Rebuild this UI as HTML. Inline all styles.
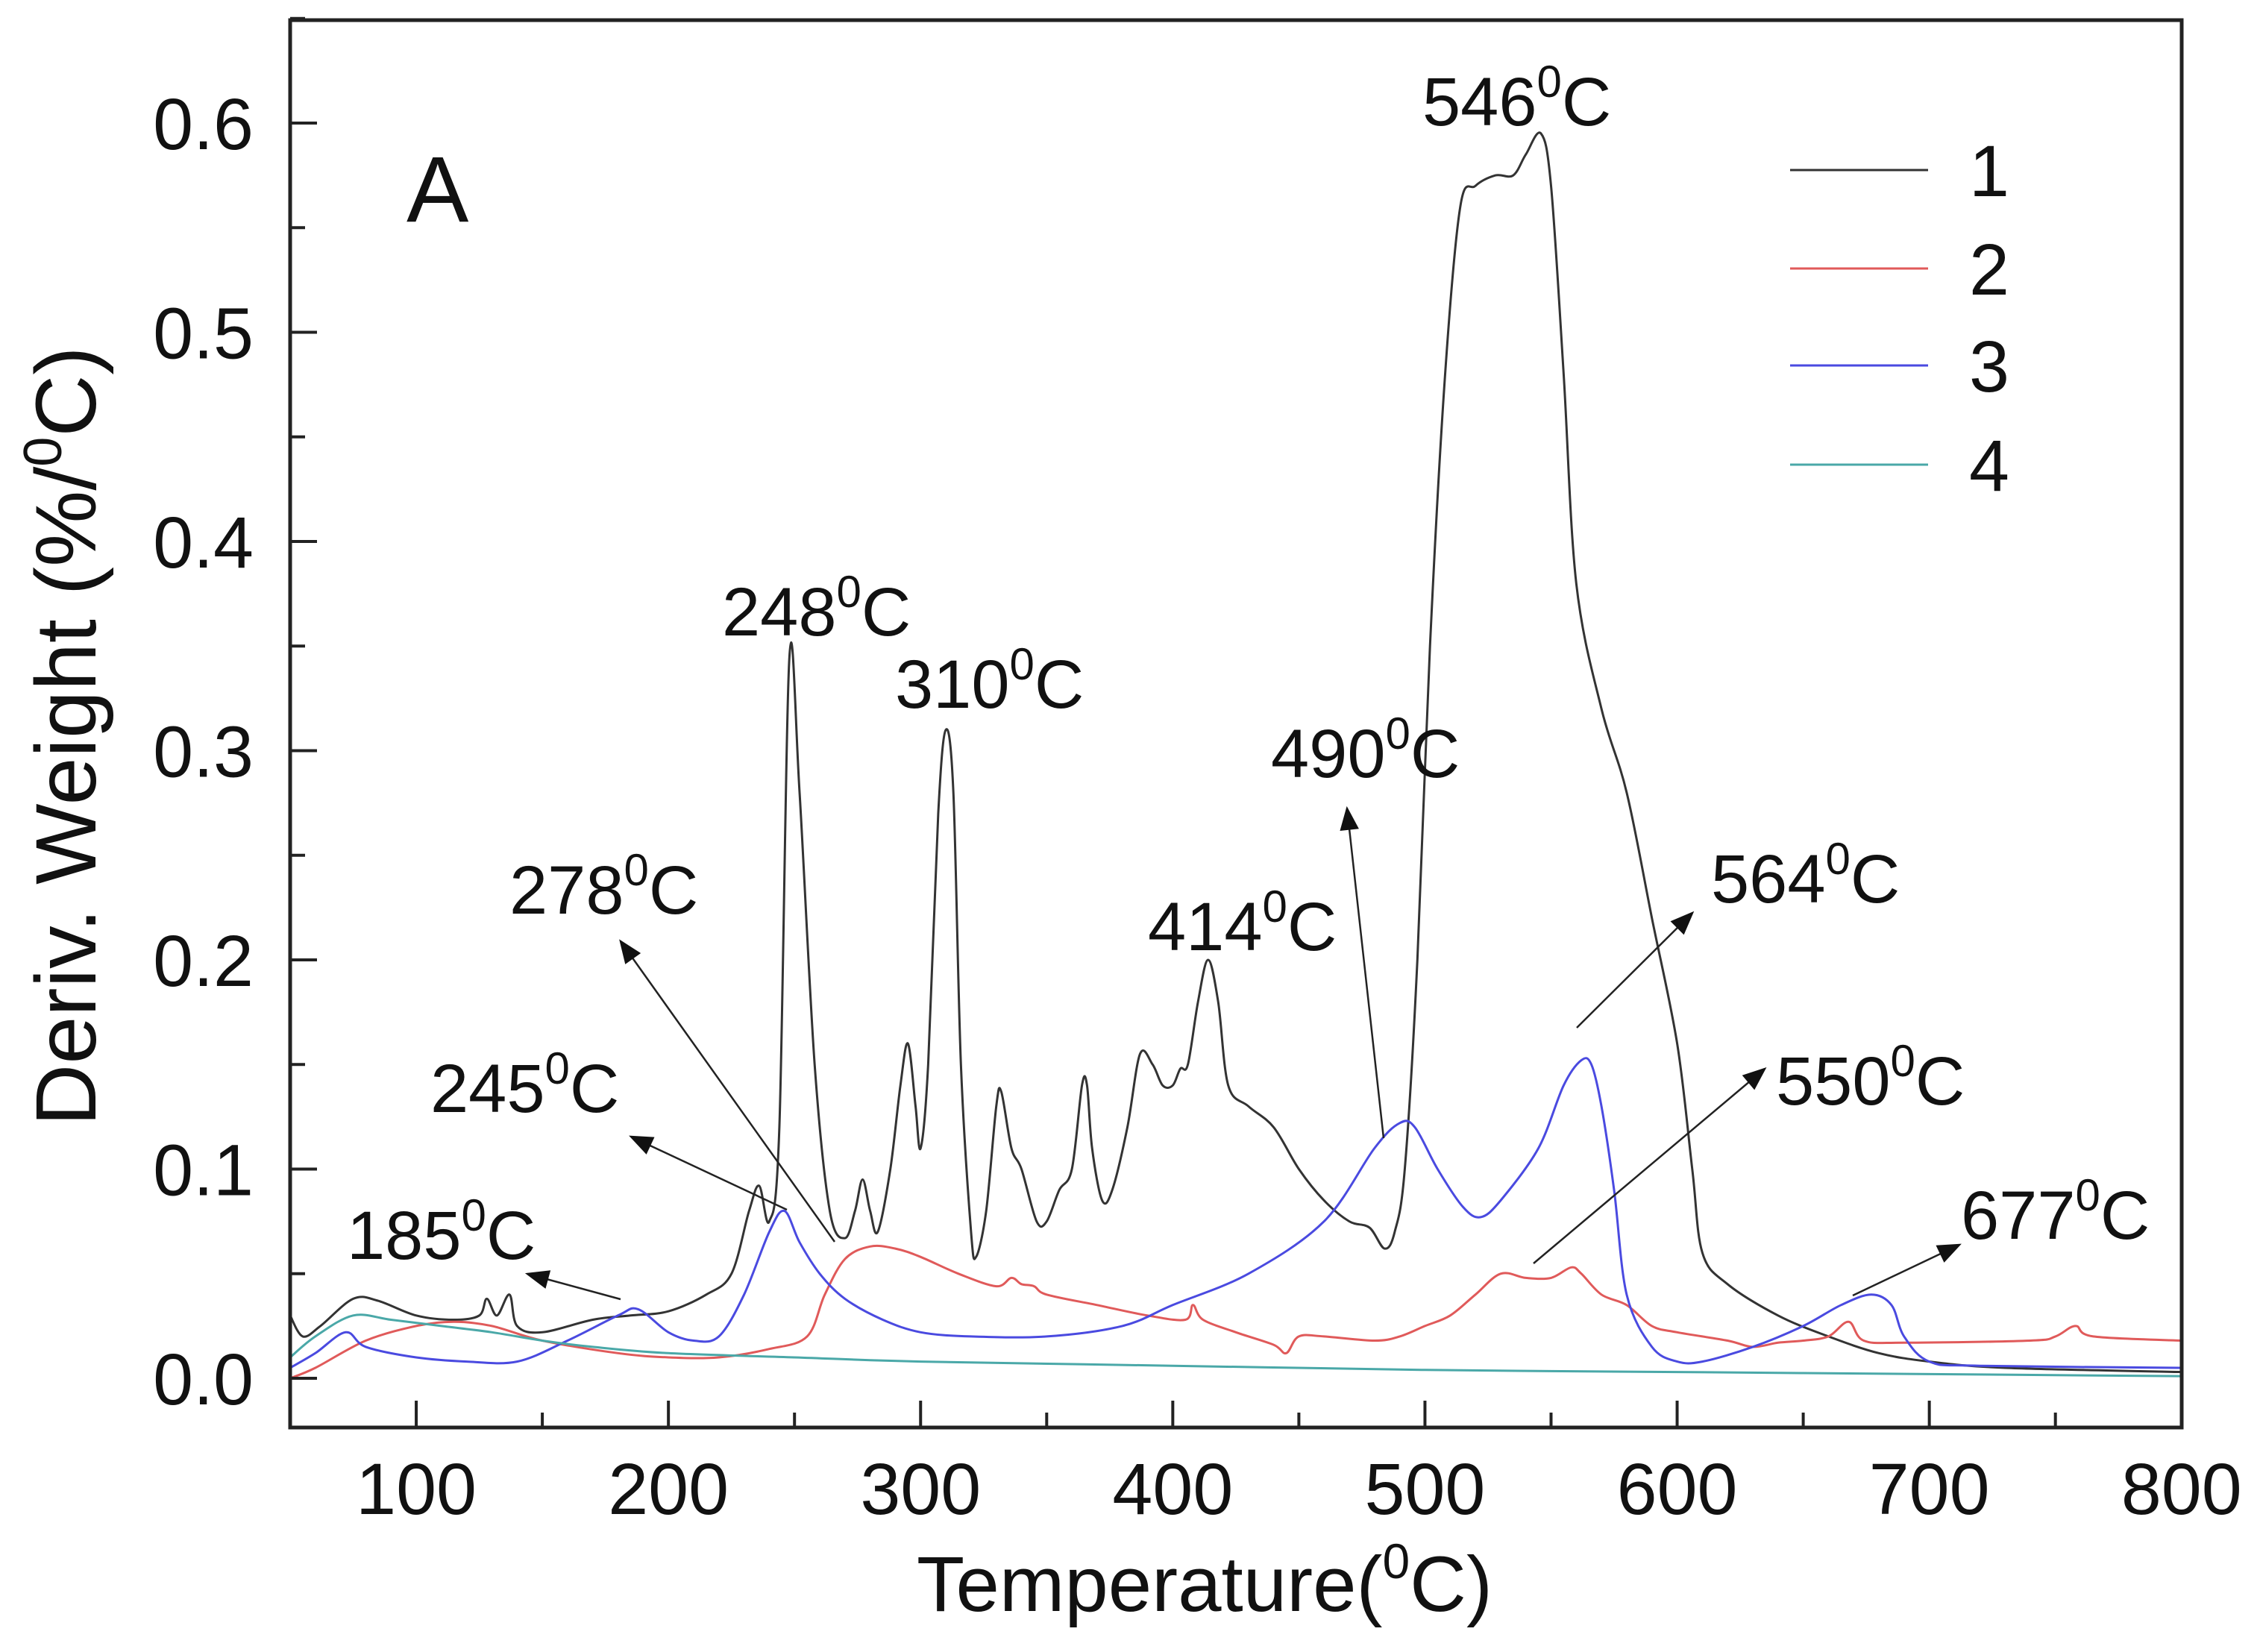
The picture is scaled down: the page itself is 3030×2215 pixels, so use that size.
<!DOCTYPE html>
<html><head><meta charset="utf-8"><style>html,body{margin:0;padding:0;background:#fff}svg{display:block}text{font-family:"Liberation Sans",sans-serif;fill:#111}</style></head>
<body>
<svg id="chart" width="3030" height="2215" viewBox="0 0 3030 2215" xmlns="http://www.w3.org/2000/svg">
<g id="plot"></g>
</svg>
<script>
const xTicks=[100,200,300,400,500,600,700,800];
const yTicks=[0.0,0.1,0.2,0.3,0.4,0.5,0.6];
const yTickLabels=["0.0","0.1","0.2","0.3","0.4","0.5","0.6"];
const s1T=[50,55,62,75,85,100,115,125,128,132,137,140,150,170,185,200,215,225,232,236,240,244,248,252,258,264,270,274,277,280,283,288,292,295,298,300,303,307,310,313,316,320,322,326,330,332,336,340,346,350,355,360,364,366,368,372,376,382,387,392,396,400,403,406,410,414,418,422,430,440,450,460,470,478,484,488,492,497,502,508,514,520,528,535,540,546,550,555,560,570,580,590,600,606,610,620,640,660,680,700,730,800];
const s1V=[0.03,0.02,0.025,0.038,0.037,0.03,0.028,0.03,0.038,0.03,0.04,0.025,0.022,0.028,0.03,0.032,0.04,0.05,0.08,0.092,0.075,0.12,0.345,0.28,0.15,0.08,0.067,0.08,0.095,0.08,0.07,0.1,0.14,0.16,0.13,0.11,0.15,0.27,0.31,0.28,0.15,0.07,0.058,0.08,0.13,0.137,0.11,0.1,0.075,0.075,0.09,0.1,0.14,0.14,0.11,0.085,0.09,0.12,0.155,0.15,0.14,0.14,0.148,0.15,0.18,0.2,0.18,0.14,0.13,0.12,0.1,0.085,0.075,0.072,0.062,0.07,0.1,0.2,0.35,0.48,0.56,0.57,0.575,0.575,0.585,0.595,0.57,0.48,0.38,0.32,0.28,0.22,0.16,0.1,0.06,0.045,0.03,0.02,0.012,0.008,0.005,0.003];
const s2T=[50,60,80,100,115,130,150,180,200,220,240,255,262,270,280,290,300,315,330,336,340,345,350,370,390,405,408,412,425,440,445,450,460,480,490,500,510,520,530,540,550,558,562,570,580,590,600,620,630,640,650,660,668,674,690,740,750,758,765,800];
const s2V=[0.0,0.005,0.018,0.025,0.027,0.025,0.018,0.012,0.01,0.01,0.014,0.02,0.04,0.057,0.063,0.062,0.058,0.05,0.044,0.048,0.045,0.044,0.04,0.035,0.03,0.028,0.035,0.028,0.022,0.016,0.012,0.02,0.02,0.018,0.02,0.025,0.03,0.04,0.05,0.048,0.048,0.053,0.05,0.04,0.035,0.025,0.022,0.018,0.015,0.017,0.018,0.02,0.027,0.018,0.017,0.018,0.02,0.025,0.02,0.018];
const s3T=[50,60,72,80,100,120,140,160,180,188,200,210,220,230,240,246,252,260,270,285,300,320,350,380,400,430,460,480,490,496,505,515,522,530,545,555,562,566,570,575,580,590,600,610,630,650,665,677,685,690,700,720,800];
const s3V=[0.005,0.012,0.022,0.015,0.01,0.008,0.008,0.018,0.03,0.033,0.022,0.018,0.02,0.04,0.07,0.08,0.065,0.05,0.038,0.028,0.022,0.02,0.02,0.025,0.035,0.05,0.075,0.11,0.122,0.12,0.1,0.082,0.077,0.085,0.11,0.14,0.152,0.15,0.13,0.09,0.04,0.015,0.008,0.008,0.015,0.025,0.035,0.04,0.035,0.02,0.008,0.006,0.005];
const s4T=[50,60,75,90,110,130,150,170,200,250,300,400,500,600,700,800];
const s4V=[0.01,0.02,0.03,0.028,0.025,0.022,0.018,0.015,0.012,0.01,0.008,0.006,0.004,0.003,0.002,0.001];

const X0=389, PX=3.381, Y0=1848, PY=2805;
function xs(t){return X0+(t-50)*PX;}
function ys(v){return Y0-v*PY;}
const NS="http://www.w3.org/2000/svg";
const g=document.getElementById('plot');
function el(tag,attrs,parent){const e=document.createElementNS(NS,tag);for(const k in attrs)e.setAttribute(k,attrs[k]);(parent||g).appendChild(e);return e;}
function smooth(P){
  let d='M'+P[0][0].toFixed(1)+' '+P[0][1].toFixed(1);
  for(let i=0;i<P.length-1;i++){
    const p0=P[Math.max(0,i-1)],p1=P[i],p2=P[i+1],p3=P[Math.min(P.length-1,i+2)];
    const c1x=p1[0]+(p2[0]-p0[0])/6,c1y=p1[1]+(p2[1]-p0[1])/6;
    const c2x=p2[0]-(p3[0]-p1[0])/6,c2y=p2[1]-(p3[1]-p1[1])/6;
    d+=' C'+c1x.toFixed(1)+' '+c1y.toFixed(1)+' '+c2x.toFixed(1)+' '+c2y.toFixed(1)+' '+p2[0].toFixed(1)+' '+p2[1].toFixed(1);
  }
  return d;
}

const defs=el('defs',{});
const cp=el('clipPath',{id:'clip'},defs);
el('rect',{x:389,y:27,width:2536,height:1887},cp);

const series=[[s1T,s1V,'#333333','series-1-line'],[s2T,s2V,'#e05a5a','series-2-line'],[s3T,s3V,'#4a4ae0','series-3-line'],[s4T,s4V,'#4aa8a8','series-4-line']];
series.forEach(function(s){
  const P=s[0].map(function(t,i){return [xs(t),ys(s[1][i])];});
  const p=el('path',{d:smooth(P),fill:'none',stroke:s[2],'stroke-width':3,'stroke-linejoin':'round','clip-path':'url(#clip)'});
  
  
});

const fr=el('rect',{x:389,y:27,width:2536,height:1887,fill:'none',stroke:'#222','stroke-width':5});



xTicks.forEach(function(t){
  el('line',{x1:xs(t),x2:xs(t),y1:1914,y2:1878,stroke:'#222','stroke-width':4});
  const tx=el('text',{x:xs(t),y:2030,'font-size':97,'text-anchor':'middle'});
  tx.textContent=String(t);
  
  
});
for(let t=150;t<800;t+=100){el('line',{x1:xs(t),x2:xs(t),y1:1914,y2:1894,stroke:'#222','stroke-width':4});}
yTicks.forEach(function(v,i){
  el('line',{x1:389,x2:425,y1:ys(v),y2:ys(v),stroke:'#222','stroke-width':4});
  const tx=el('text',{x:340,y:ys(v)+35,'font-size':97,'text-anchor':'end'});
  tx.textContent=yTickLabels[i];
  
  
});
for(let v=0.05;v<0.65;v+=0.1){el('line',{x1:389,x2:409,y1:ys(v),y2:ys(v),stroke:'#222','stroke-width':4});}

const legC=['#333333','#e05a5a','#4a4ae0','#4aa8a8'], legY=[228,360,490,623], legL=['1','2','3','4'];
legL.forEach(function(l,i){
  const ln=el('line',{x1:2400,x2:2585,y1:legY[i],y2:legY[i],stroke:legC[i],'stroke-width':3});
  
  
  const tx=el('text',{x:2640,y:legY[i]+35,'font-size':97});
  tx.textContent=l;
  
  
});
</script>
<svg style="position:absolute;left:0;top:0" width="3030" height="2215">
<defs><marker id="ah2" viewBox="0 0 10 10" refX="9" refY="5" markerWidth="44" markerHeight="32" markerUnits="userSpaceOnUse" orient="auto"><path d="M0 1 L10 5 L0 9 z" fill="#111"/></marker></defs>
<g stroke="#222" stroke-width="2.5" fill="none">
<line x1="1119" y1="1665" x2="832" y2="1262" marker-end="url(#ah2)"/>
<line x1="1055" y1="1622" x2="846" y2="1524" marker-end="url(#ah2)"/>
<line x1="832" y1="1742" x2="707" y2="1708" marker-end="url(#ah2)"/>
<line x1="1855" y1="1526" x2="1806" y2="1084" marker-end="url(#ah2)"/>
<line x1="2114" y1="1378" x2="2269" y2="1224" marker-end="url(#ah2)"/>
<line x1="2056" y1="1694" x2="2366" y2="1433" marker-end="url(#ah2)"/>
<line x1="2484" y1="1737" x2="2627" y2="1669" marker-end="url(#ah2)"/>
</g>
<g font-size="92" style="font-family:'Liberation Sans',sans-serif">
<text x="1907" y="168">546<tspan dy="-38" font-size="60">0</tspan><tspan dy="38">C</tspan></text>
<text x="968" y="852">248<tspan dy="-38" font-size="60">0</tspan><tspan dy="38">C</tspan></text>
<text x="1200" y="949">310<tspan dy="-38" font-size="60">0</tspan><tspan dy="38">C</tspan></text>
<text x="1704" y="1042">490<tspan dy="-38" font-size="60">0</tspan><tspan dy="38">C</tspan></text>
<text x="683" y="1225">278<tspan dy="-38" font-size="60">0</tspan><tspan dy="38">C</tspan></text>
<text x="1539" y="1274">414<tspan dy="-38" font-size="60">0</tspan><tspan dy="38">C</tspan></text>
<text x="2294" y="1210">564<tspan dy="-38" font-size="60">0</tspan><tspan dy="38">C</tspan></text>
<text x="577" y="1491">245<tspan dy="-38" font-size="60">0</tspan><tspan dy="38">C</tspan></text>
<text x="2381" y="1481">550<tspan dy="-38" font-size="60">0</tspan><tspan dy="38">C</tspan></text>
<text x="465" y="1688">185<tspan dy="-38" font-size="60">0</tspan><tspan dy="38">C</tspan></text>
<text x="2629" y="1661">677<tspan dy="-38" font-size="60">0</tspan><tspan dy="38">C</tspan></text>
</g>
<text x="545" y="297" font-size="125" style="font-family:'Liberation Sans',sans-serif">A</text>
<text x="1615" y="2160" font-size="105" text-anchor="middle" style="font-family:'Liberation Sans',sans-serif">Temperature(<tspan dy="-44" font-size="66">0</tspan><tspan dy="44">C)</tspan></text>
<text transform="translate(128,987) rotate(-90)" font-size="115" text-anchor="middle" style="font-family:'Liberation Sans',sans-serif">Deriv. Weight (%/<tspan dy="-46" font-size="72">0</tspan><tspan dy="46">C)</tspan></text>
</svg>
</body></html>
